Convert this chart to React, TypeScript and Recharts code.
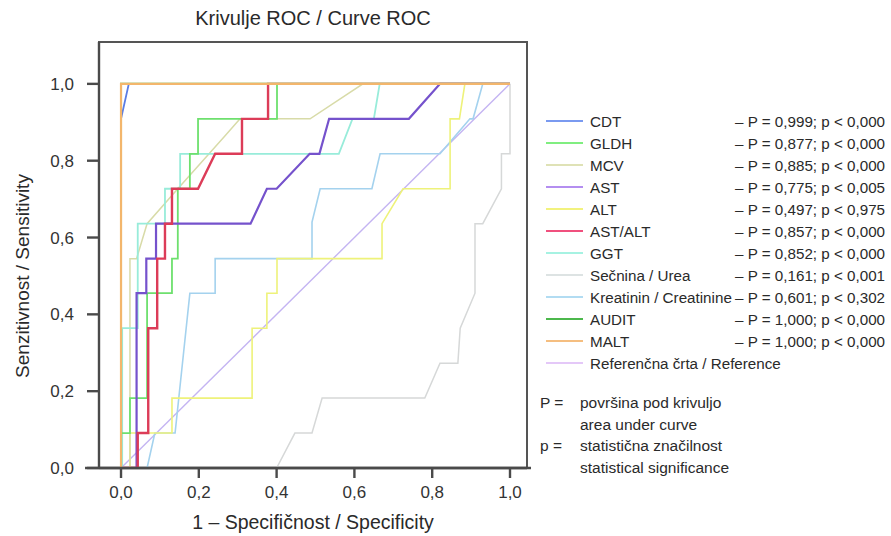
import React from 'react';
import { LineChart, Line, XAxis, YAxis, ReferenceArea, ReferenceLine } from 'recharts';

// ROC točke: [1 - specifičnost, senzitivnost]
const xTicks = [0, 0.2, 0.4, 0.6, 0.8, 1.0];
const yTicks = [0, 0.2, 0.4, 0.6, 0.8, 1.0];
const xDomain = [-0.0566, 1.0437];
const yDomain = [0, 1.109];

const reference = [[0, 0], [1, 1]];
const urea = [[0, 0], [0.4, 0], [0.447, 0.091], [0.491, 0.091], [0.517, 0.182], [0.781, 0.182], [0.82, 0.273], [0.866, 0.273], [0.872, 0.364], [0.91, 0.455], [0.91, 0.636], [0.93, 0.636], [0.978, 0.727], [0.978, 0.818], [1, 0.818], [1, 1]];
const creatinine = [[0, 0], [0.067, 0], [0.087, 0.091], [0.139, 0.091], [0.177, 0.455], [0.242, 0.455], [0.242, 0.545], [0.491, 0.545], [0.491, 0.64], [0.512, 0.727], [0.645, 0.727], [0.666, 0.818], [0.82, 0.818], [0.897, 0.909], [0.905, 0.909], [0.93, 1], [1, 1]];
const alt = [[0, 0], [0.023, 0], [0.023, 0.091], [0.131, 0.091], [0.131, 0.182], [0.337, 0.182], [0.337, 0.364], [0.375, 0.364], [0.375, 0.455], [0.401, 0.455], [0.401, 0.545], [0.671, 0.545], [0.671, 0.636], [0.725, 0.727], [0.846, 0.727], [0.846, 0.909], [0.87, 0.909], [0.884, 1], [1, 1]];
const mcv = [[0, 0], [0.023, 0], [0.023, 0.545], [0.04, 0.545], [0.067, 0.636], [0.146, 0.727], [0.267, 0.864], [0.306, 0.909], [0.486, 0.909], [0.622, 1], [1, 1]];
const ggt = [[0, 0], [0.003, 0], [0.003, 0.364], [0.043, 0.364], [0.043, 0.636], [0.113, 0.636], [0.113, 0.727], [0.152, 0.727], [0.152, 0.818], [0.56, 0.818], [0.595, 0.909], [0.65, 0.909], [0.665, 1], [1, 1]];
const gldh = [[0, 0], [0, 0.091], [0.023, 0.091], [0.023, 0.182], [0.067, 0.182], [0.067, 0.455], [0.131, 0.455], [0.131, 0.545], [0.146, 0.545], [0.146, 0.727], [0.177, 0.727], [0.177, 0.818], [0.198, 0.818], [0.198, 0.909], [0.401, 0.909], [0.401, 1], [1, 1]];
const ast = [[0, 0], [0.04, 0], [0.04, 0.455], [0.065, 0.455], [0.065, 0.545], [0.09, 0.545], [0.09, 0.636], [0.333, 0.636], [0.375, 0.727], [0.4, 0.727], [0.485, 0.818], [0.51, 0.818], [0.535, 0.909], [0.74, 0.909], [0.82, 1], [1, 1]];
const astAlt = [[0, 0], [0.043, 0], [0.043, 0.091], [0.07, 0.091], [0.07, 0.364], [0.093, 0.364], [0.093, 0.545], [0.113, 0.545], [0.113, 0.636], [0.131, 0.636], [0.131, 0.727], [0.198, 0.727], [0.242, 0.818], [0.311, 0.818], [0.311, 0.909], [0.378, 0.909], [0.378, 1], [1, 1]];
const cdt = [[0, 0], [0, 0.909], [0.02, 1], [1, 1]];
const audit = [[0, 0], [0, 1], [1, 1]];
const malt = [[0, 0], [0, 1], [1, 1]];

const seriesNames = ['CDT', 'GLDH', 'MCV', 'AST', 'ALT', 'AST/ALT', 'GGT', 'Sečnina / Urea', 'Kreatinin / Creatinine', 'AUDIT', 'MALT', 'Referenčna črta / Reference'];
const aucValues = ['0,999', '0,877', '0,885', '0,775', '0,497', '0,857', '0,852', '0,161', '0,601', '1,000', '1,000', null];
const pValues = ['0,000', '0,000', '0,000', '0,005', '0,975', '0,000', '0,000', '0,001', '0,302', '0,000', '0,000', null];
const legendColors = ['#7a9af0', '#80ee80', '#dfe2b6', '#b48ef0', '#f2f27e', '#f0507e', '#a6f2e2', '#dde3e3', '#b2dcf2', '#4cb84c', '#f5be80', '#e4c8f8'];

// vrstni red risanja (zadaj -> spredaj)
const drawOrder = [
  { data: reference, color: '#c4b4f2', width: 1.4 },
  { data: urea, color: '#d6d8d8', width: 1.5 },
  { data: creatinine, color: '#a4d2ee', width: 1.6 },
  { data: alt, color: '#eef27a', width: 1.6 },
  { data: mcv, color: '#d8dba8', width: 1.5 },
  { data: ggt, color: '#98ecda', width: 1.8 },
  { data: gldh, color: '#6ee06e', width: 1.8 },
  { data: ast, color: '#7552cc', width: 2.2 },
  { data: astAlt, color: '#dc3c58', width: 2.4 },
  { data: cdt, color: '#5a7ce4', width: 1.8 },
  { data: audit, color: '#4cb84c', width: 2 },
  { data: malt, color: '#f3b66c', width: 2.2 },
];

const FONT = '"Liberation Sans", Arial, Helvetica, sans-serif';
const fmt = (v: number) => v.toFixed(1).replace('.', ',');

function SensLabel() {
  return (
    <text x={22} y={276} transform="rotate(-90 22 276)" textAnchor="middle" dominantBaseline="central" fontSize={19} fill="#2a2a2a" fontFamily={FONT}>
      Senzitivnost / Sensitivity
    </text>
  );
}

function RocLegend() {
  return (
    <div style={{ position: 'absolute', left: 546, top: 110, fontFamily: FONT, fontSize: 15.2, color: '#2a2a2a' }}>
      {seriesNames.map((name, i) => (
        <div key={name} style={{ display: 'flex', alignItems: 'center', height: 22 }}>
          <span style={{ width: 37, height: 2, background: legendColors[i], marginRight: 7 }} />
          <span style={{ width: 145, whiteSpace: 'nowrap' }}>{name}</span>
          {aucValues[i] && <span style={{ whiteSpace: 'nowrap' }}>– P = {aucValues[i]}; p &lt; {pValues[i]}</span>}
        </div>
      ))}
      <div style={{ position: 'relative', left: -6, marginTop: 18, lineHeight: '21.5px', fontSize: 15.5 }}>
        <div style={{ display: 'flex' }}><span style={{ width: 40 }}>P =</span><span>površina pod krivuljo<br />area under curve</span></div>
        <div style={{ display: 'flex' }}><span style={{ width: 40 }}>p =</span><span>statistična značilnost<br />statistical significance</span></div>
      </div>
    </div>
  );
}

export default function App() {
  return (
    <div style={{ position: 'absolute', left: 0, top: 0, width: 891, height: 536, background: '#fff' }}>
      <div style={{ position: 'absolute', left: 99, top: 7, width: 428, textAlign: 'center', fontFamily: FONT, fontSize: 20, color: '#2a2a2a' }}>
        Krivulje ROC / Curve ROC
      </div>
      <LineChart width={891} height={536} margin={{ top: 41, right: 364, bottom: 0, left: 0 }}>
        <XAxis
          dataKey="x"
          type="number"
          domain={xDomain}
          ticks={xTicks}
          tickFormatter={fmt}
          allowDataOverflow
          height={68}
          tickSize={10}
          tickMargin={8}
          stroke="#4a4a4a"
          strokeWidth={2.4}
          tick={{ fontSize: 17, fill: '#333', fontFamily: FONT }}
          label={{ value: '1 – Specifičnost / Specificity', position: 'insideBottom', offset: 7, fontSize: 19.5, fill: '#2a2a2a', fontFamily: FONT }}
        />
        <XAxis xAxisId="top" orientation="top" type="number" domain={xDomain} ticks={xTicks} allowDataOverflow height={1} tick={{ fill: 'none', fontSize: 1 }} tickSize={4} axisLine={false} stroke="#555" strokeWidth={2} />
        <YAxis
          type="number"
          domain={yDomain}
          ticks={yTicks}
          tickFormatter={fmt}
          allowDataOverflow
          width={99}
          tickSize={12}
          tickMargin={13}
          stroke="#4a4a4a"
          strokeWidth={2.4}
          tick={{ fontSize: 17, fill: '#333', fontFamily: FONT }}
          label={<SensLabel />}
        />
        <ReferenceArea x1={xDomain[0]} x2={xDomain[1]} y1={yDomain[0]} y2={yDomain[1]} fill="none" fillOpacity={0} stroke="#555" strokeWidth={2} ifOverflow="visible" />
        <ReferenceLine segment={[{ x: -0.0925, y: 0 }, { x: 1.054, y: 0 }]} stroke="#4a4a4a" strokeWidth={2.4} ifOverflow="visible" />
        {drawOrder.map((s, i) => (
          <Line
            key={i}
            data={s.data.map(([x, y]) => ({ x, y }))}
            dataKey="y"
            type="linear"
            stroke={s.color}
            strokeWidth={s.width}
            dot={false}
            activeDot={false}
            isAnimationActive={false}
          />
        ))}
      </LineChart>
      <RocLegend />
    </div>
  );
}
